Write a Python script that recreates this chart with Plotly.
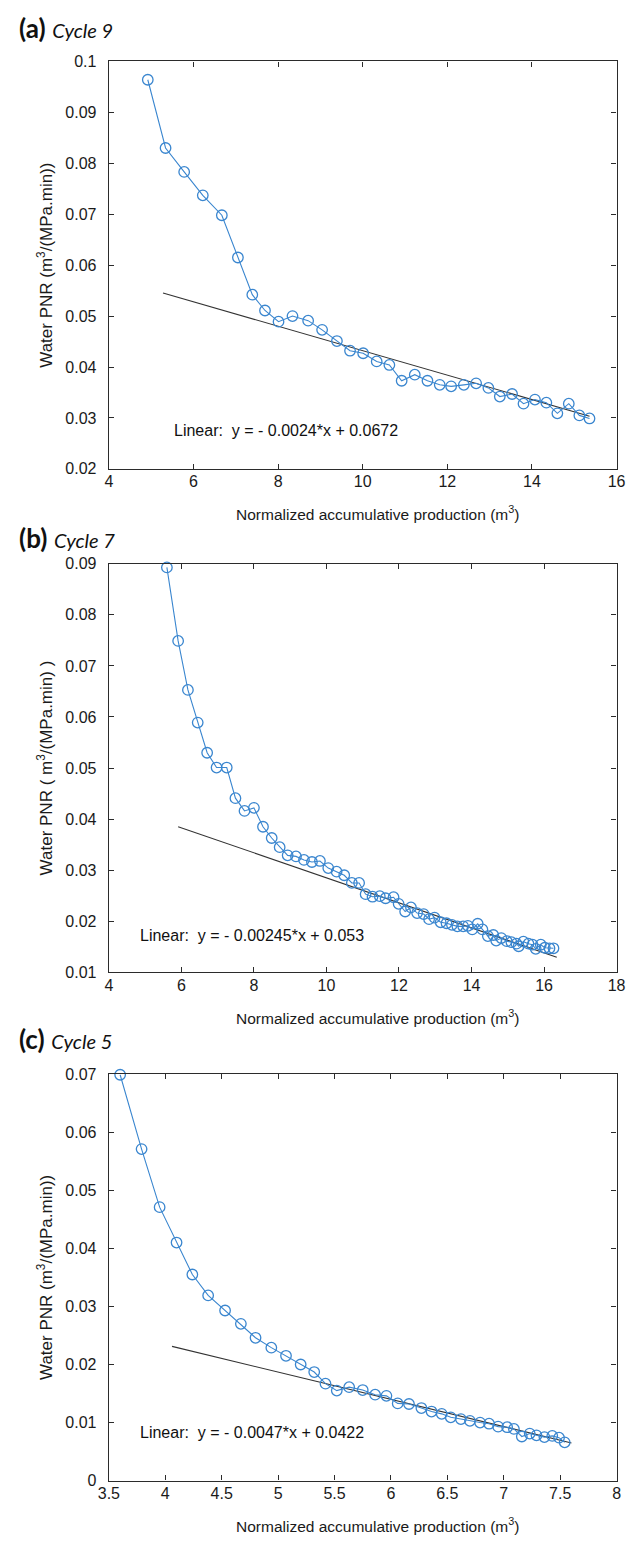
import plotly.graph_objects as go

# ---- Cycle 9 ----
x_c9 = [4.92, 5.34, 5.78, 6.22, 6.67, 7.05, 7.39, 7.69, 8.01, 8.34, 8.71, 9.04,
        9.39, 9.70, 10.01, 10.33, 10.63, 10.92, 11.23, 11.53, 11.82, 12.09, 12.39,
        12.68, 12.97, 13.24, 13.53, 13.80, 14.07, 14.34, 14.60, 14.87, 15.12, 15.36]
y_c9 = [0.0964, 0.0830, 0.0783, 0.0737, 0.0698, 0.0615, 0.0542, 0.0511, 0.0489,
        0.0500, 0.0491, 0.0473, 0.0451, 0.0432, 0.0427, 0.0411, 0.0404, 0.0373,
        0.0385, 0.0373, 0.0365, 0.0362, 0.0365, 0.0368, 0.0359, 0.0342, 0.0347,
        0.0328, 0.0336, 0.0330, 0.0309, 0.0328, 0.0305, 0.0299]
fit_c9 = {"slope": -0.0024, "intercept": 0.0672, "x0": 5.28, "x1": 15.36}

# ---- Cycle 7 ----
x_c7 = [5.60, 5.91, 6.18, 6.45, 6.71, 6.97, 7.25, 7.49, 7.74, 8.00, 8.25, 8.49,
        8.71, 8.93, 9.16, 9.38, 9.60, 9.82, 10.05, 10.28, 10.49, 10.70, 10.90,
        11.08, 11.27, 11.47, 11.63, 11.85, 11.99, 12.17, 12.33, 12.50, 12.68,
        12.83, 12.98, 13.15, 13.31, 13.46, 13.61, 13.77, 13.90, 14.02, 14.17,
        14.30, 14.45, 14.60, 14.68, 14.82, 14.97, 15.10, 15.24, 15.30, 15.43,
        15.57, 15.68, 15.77, 15.91, 16.02, 16.15, 16.26]
y_c7 = [0.0893, 0.0749, 0.0653, 0.0589, 0.0530, 0.0501, 0.0501, 0.0441, 0.0416,
        0.0422, 0.0385, 0.0363, 0.0345, 0.0329, 0.0327, 0.0320, 0.0316, 0.0318,
        0.0304, 0.0297, 0.0290, 0.0275, 0.0275, 0.0253, 0.0248, 0.0249, 0.0245,
        0.0247, 0.0234, 0.0219, 0.0227, 0.0216, 0.0214, 0.0204, 0.0207, 0.0198,
        0.0196, 0.0193, 0.0190, 0.0190, 0.0191, 0.0184, 0.0195, 0.0184, 0.0171,
        0.0173, 0.0162, 0.0167, 0.0161, 0.0159, 0.0156, 0.0151, 0.0160, 0.0156,
        0.0154, 0.0146, 0.0154, 0.0148, 0.0147, 0.0147]
fit_c7 = {"slope": -0.00245, "intercept": 0.053, "x0": 5.91, "x1": 16.35}

# ---- Cycle 5 ----
x_c5 = [3.60, 3.79, 3.95, 4.10, 4.24, 4.38, 4.53, 4.67, 4.80, 4.94, 5.07, 5.20,
        5.32, 5.42, 5.52, 5.63, 5.75, 5.86, 5.96, 6.06, 6.16, 6.27, 6.36, 6.45,
        6.53, 6.62, 6.70, 6.79, 6.87, 6.95, 7.03, 7.09, 7.16, 7.23, 7.29, 7.36,
        7.43, 7.49, 7.54]
y_c5 = [0.0699, 0.0571, 0.0471, 0.0410, 0.0355, 0.0319, 0.0293, 0.0270, 0.0246,
        0.0229, 0.0215, 0.0200, 0.0187, 0.0167, 0.0155, 0.0161, 0.0156, 0.0148,
        0.0146, 0.0133, 0.0132, 0.0125, 0.0119, 0.0115, 0.0109, 0.0106, 0.0103,
        0.0100, 0.0098, 0.0093, 0.0092, 0.0089, 0.0076, 0.0081, 0.0078, 0.0075,
        0.0077, 0.0074, 0.0066]
fit_c5 = {"slope": -0.0047, "intercept": 0.0422, "x0": 4.06, "x1": 7.60}

# ---- tick labels ----
xticks_c9 = [4, 6, 8, 10, 12, 14, 16]
yticks_c9 = [0.02, 0.03, 0.04, 0.05, 0.06, 0.07, 0.08, 0.09, 0.1]
xticks_c7 = [4, 6, 8, 10, 12, 14, 16, 18]
yticks_c7 = [0.01, 0.02, 0.03, 0.04, 0.05, 0.06, 0.07, 0.08, 0.09]
xticks_c5 = [3.5, 4, 4.5, 5, 5.5, 6, 6.5, 7, 7.5, 8]
yticks_c5 = [0, 0.01, 0.02, 0.03, 0.04, 0.05, 0.06, 0.07]

W, H = 644, 1546
BLUE = "#3a86cf"
AXIS = "#2b2b2b"
SANS = "Liberation Sans, Arial, sans-serif"
TICKFONT = dict(family=SANS, size=16, color="#1a1a1a")
XTITLEFONT = dict(family=SANS, size=15.5, color="#1a1a1a")
YTITLEFONT = dict(family=SANS, size=17, color="#1a1a1a")
XTITLE = "Normalized accumulative production (m<sup>3</sup>)"


def ydom(top_px, bottom_px):
    return [1 - bottom_px / H, 1 - top_px / H]


XDOM = [101 / W, 625 / W]

panels = [
    # x, y, fit, x ticks, y ticks, x range, y range, pixel span, y title, tag, cycle, heading y
    (x_c9, y_c9, fit_c9, xticks_c9, yticks_c9, [4, 16], [0.02, 0.1], (54, 466),
     "Water PNR (m<sup>3</sup>/(MPa.min))", "(a)", "Cycle 9", 20),
    (x_c7, y_c7, fit_c7, xticks_c7, yticks_c7, [4, 18], [0.01, 0.09], (562, 975),
     "Water PNR ( m<sup>3</sup>/(MPa.min) )", "(b)", "Cycle 7", 536),
    (x_c5, y_c5, fit_c5, xticks_c5, yticks_c5, [3.5, 8], [0, 0.07], (1078, 1489),
     "Water PNR (m<sup>3</sup>/(MPa.min))", "(c)", "Cycle 5", 1042),
]

eq_text = {
    "(a)": "Linear:  y = - 0.0024*x + 0.0672",
    "(b)": "Linear:  y = - 0.00245*x + 0.053",
    "(c)": "Linear:  y = - 0.0047*x + 0.0422",
}
# left/middle anchor of each equation label, in data units
eq_pos = {"(a)": (5.5, 0.0276), "(b)": (4.8, 0.0173), "(c)": (3.76, 0.0083)}

fig = go.Figure()
layout = dict(
    width=W, height=H, margin=dict(l=0, r=0, t=0, b=0),
    paper_bgcolor="white", plot_bgcolor="white", showlegend=False,
)
annotations = []

for i, (xs, ys, fit, xt, yt, xr, yr, (top, bot), ytitle, tag, cyc, hy) in enumerate(panels):
    n = "" if i == 0 else str(i + 1)
    xa, ya = "x" + n, "y" + n

    # fitted straight line from the stated equation
    fx = [fit["x0"], fit["x1"]]
    fy = [fit["slope"] * v + fit["intercept"] for v in fx]
    fig.add_trace(go.Scatter(x=fx, y=fy, mode="lines", xaxis=xa, yaxis=ya,
                             line=dict(color="#333333", width=1.1), hoverinfo="skip"))
    # measured points
    fig.add_trace(go.Scatter(x=xs, y=ys, mode="lines+markers", xaxis=xa, yaxis=ya,
                             line=dict(color=BLUE, width=1.1),
                             marker=dict(symbol="circle-open", size=10.5, color=BLUE,
                                         line=dict(width=1.3, color=BLUE)),
                             cliponaxis=False))

    common = dict(showline=True, linecolor=AXIS, linewidth=1.4, mirror="ticks",
                  ticks="inside", ticklen=5, tickwidth=1.3, tickcolor=AXIS,
                  showgrid=False, zeroline=False, tickfont=TICKFONT)
    layout["xaxis" + n] = dict(domain=XDOM, range=xr, anchor=ya,
                               tickvals=xt, ticktext=[f"{v:g}" for v in xt],
                               ticklabelstandoff=-2, **common)
    layout["yaxis" + n] = dict(domain=ydom(top, bot), range=yr, anchor=xa,
                               tickvals=yt, ticktext=[f"{v:g}" for v in yt],
                               ticklabelstandoff=8,
                               title=dict(text=ytitle, font=YTITLEFONT, standoff=8),
                               **common)

    # x-axis title, set slightly right of the axis centre
    annotations.append(dict(x=378 / W, y=1 - (bot + 45) / H, xref="paper", yref="paper",
                            text=XTITLE, showarrow=False, xanchor="center",
                            yanchor="middle", font=XTITLEFONT))

    ex, ey = eq_pos[tag]
    annotations.append(dict(x=ex, y=ey, xref=xa, yref=ya, text=eq_text[tag],
                            showarrow=False, xanchor="left", yanchor="middle",
                            font=dict(family=SANS, size=16, color="#111111")))
    # panel heading
    annotations.append(dict(
        x=6 / W, y=1 - hy / H, xref="paper", yref="paper",
        text=(f"<b>{tag}</b> <span style='font-size:20px'><i>{cyc}</i></span>"),
        showarrow=False, xanchor="left", yanchor="middle",
        font=dict(family="Lato, Open Sans, sans-serif", size=26, color="#111111")))

layout["annotations"] = annotations
fig.update_layout(**layout)
fig.write_html("out.html")
